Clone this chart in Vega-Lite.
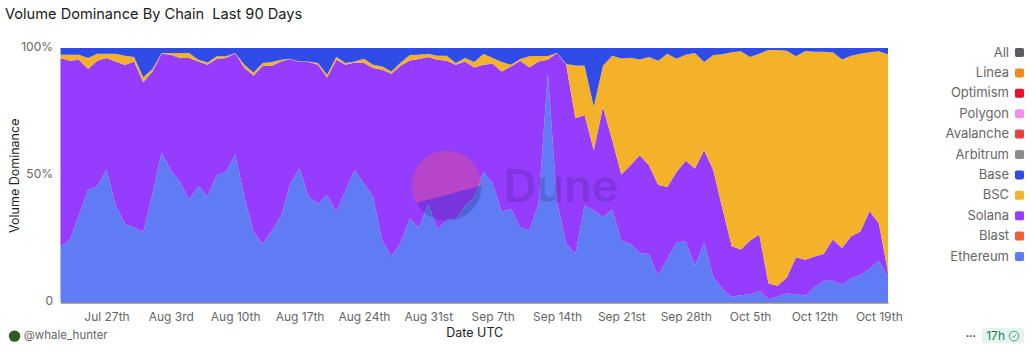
{
"$schema":"https://vega.github.io/schema/vega-lite/v6.json",
"width":827.5,"height":254.5,
"autosize":{"type":"none"},
"padding":{"left":60.5,"top":48,"right":144,"bottom":49.5},
"background":"white",
"title":{"text":"Volume Dominance By Chain\u00a0\u00a0Last 90 Days","anchor":"start","frame":"group","dx":-55.5,"offset":18,"font":"Inter","fontSize":14.6,"fontWeight":"normal","color":"#1a1a1a"},
"config":{"view":{"stroke":null},"font":"Inter"},
"layer":[
{"data":{"values":[
{"date":"2025-07-22","Ethereum":167,"Solana":563,"BSC":10,"Base":20},
{"date":"2025-07-23","Ethereum":187,"Solana":535,"BSC":18,"Base":20},
{"date":"2025-07-24","Ethereum":260,"Solana":465,"BSC":15,"Base":20},
{"date":"2025-07-25","Ethereum":337,"Solana":360,"BSC":33,"Base":30},
{"date":"2025-07-26","Ethereum":347,"Solana":375,"BSC":21,"Base":17},
{"date":"2025-07-27","Ethereum":397,"Solana":333,"BSC":13,"Base":17},
{"date":"2025-07-28","Ethereum":290,"Solana":430,"BSC":23,"Base":17},
{"date":"2025-07-29","Ethereum":235,"Solana":474,"BSC":28,"Base":23},
{"date":"2025-07-30","Ethereum":225,"Solana":495,"BSC":13,"Base":27},
{"date":"2025-07-31","Ethereum":210,"Solana":448,"BSC":15,"Base":87},
{"date":"2025-08-01","Ethereum":325,"Solana":365,"BSC":7,"Base":63},
{"date":"2025-08-02","Ethereum":447,"Solana":296,"BSC":2,"Base":15},
{"date":"2025-08-03","Ethereum":395,"Solana":345,"BSC":5,"Base":15},
{"date":"2025-08-04","Ethereum":360,"Solana":370,"BSC":15,"Base":15},
{"date":"2025-08-05","Ethereum":307,"Solana":423,"BSC":15,"Base":15},
{"date":"2025-08-06","Ethereum":347,"Solana":373,"BSC":5,"Base":35},
{"date":"2025-08-07","Ethereum":317,"Solana":393,"BSC":7,"Base":43},
{"date":"2025-08-08","Ethereum":380,"Solana":348,"BSC":7,"Base":25},
{"date":"2025-08-09","Ethereum":390,"Solana":340,"BSC":5,"Base":25},
{"date":"2025-08-10","Ethereum":442,"Solana":302,"BSC":1,"Base":15},
{"date":"2025-08-11","Ethereum":315,"Solana":385,"BSC":10,"Base":50},
{"date":"2025-08-12","Ethereum":210,"Solana":468,"BSC":9,"Base":73},
{"date":"2025-08-13","Ethereum":175,"Solana":532,"BSC":8,"Base":45},
{"date":"2025-08-14","Ethereum":215,"Solana":492,"BSC":11,"Base":42},
{"date":"2025-08-15","Ethereum":260,"Solana":460,"BSC":5,"Base":35},
{"date":"2025-08-16","Ethereum":355,"Solana":372,"BSC":1,"Base":32},
{"date":"2025-08-17","Ethereum":400,"Solana":318,"BSC":2,"Base":40},
{"date":"2025-08-18","Ethereum":315,"Solana":403,"BSC":2,"Base":40},
{"date":"2025-08-19","Ethereum":295,"Solana":415,"BSC":5,"Base":45},
{"date":"2025-08-20","Ethereum":320,"Solana":352,"BSC":8,"Base":80},
{"date":"2025-08-21","Ethereum":270,"Solana":455,"BSC":8,"Base":27},
{"date":"2025-08-22","Ethereum":335,"Solana":375,"BSC":5,"Base":45},
{"date":"2025-08-23","Ethereum":395,"Solana":322,"BSC":3,"Base":40},
{"date":"2025-08-24","Ethereum":355,"Solana":360,"BSC":13,"Base":32},
{"date":"2025-08-25","Ethereum":315,"Solana":385,"BSC":10,"Base":50},
{"date":"2025-08-26","Ethereum":185,"Solana":510,"BSC":10,"Base":55},
{"date":"2025-08-27","Ethereum":137,"Solana":546,"BSC":7,"Base":70},
{"date":"2025-08-28","Ethereum":180,"Solana":527,"BSC":10,"Base":43},
{"date":"2025-08-29","Ethereum":250,"Solana":473,"BSC":16,"Base":21},
{"date":"2025-08-30","Ethereum":223,"Solana":504,"BSC":13,"Base":20},
{"date":"2025-08-31","Ethereum":295,"Solana":438,"BSC":10,"Base":17},
{"date":"2025-09-01","Ethereum":218,"Solana":507,"BSC":12,"Base":23},
{"date":"2025-09-02","Ethereum":247,"Solana":475,"BSC":15,"Base":23},
{"date":"2025-09-03","Ethereum":250,"Solana":460,"BSC":5,"Base":45},
{"date":"2025-09-04","Ethereum":290,"Solana":430,"BSC":10,"Base":30},
{"date":"2025-09-05","Ethereum":315,"Solana":387,"BSC":16,"Base":42},
{"date":"2025-09-06","Ethereum":390,"Solana":320,"BSC":32,"Base":18},
{"date":"2025-09-07","Ethereum":355,"Solana":358,"BSC":17,"Base":30},
{"date":"2025-09-08","Ethereum":270,"Solana":420,"BSC":28,"Base":42},
{"date":"2025-09-09","Ethereum":280,"Solana":425,"BSC":5,"Base":50},
{"date":"2025-09-10","Ethereum":225,"Solana":497,"BSC":5,"Base":33},
{"date":"2025-09-11","Ethereum":215,"Solana":487,"BSC":33,"Base":25},
{"date":"2025-09-12","Ethereum":295,"Solana":425,"BSC":16,"Base":24},
{"date":"2025-09-13","Ethereum":685,"Solana":40,"BSC":11,"Base":24},
{"date":"2025-09-14","Ethereum":300,"Solana":445,"BSC":1,"Base":14},
{"date":"2025-09-15","Ethereum":175,"Solana":535,"BSC":2,"Base":48},
{"date":"2025-09-16","Ethereum":145,"Solana":405,"BSC":158,"Base":52},
{"date":"2025-09-17","Ethereum":290,"Solana":270,"BSC":147,"Base":53},
{"date":"2025-09-18","Ethereum":275,"Solana":180,"BSC":130,"Base":175},
{"date":"2025-09-19","Ethereum":255,"Solana":328,"BSC":124,"Base":53},
{"date":"2025-09-20","Ethereum":278,"Solana":207,"BSC":252,"Base":23},
{"date":"2025-09-21","Ethereum":185,"Solana":197,"BSC":347,"Base":31},
{"date":"2025-09-22","Ethereum":175,"Solana":235,"BSC":321,"Base":29},
{"date":"2025-09-23","Ethereum":147,"Solana":293,"BSC":286,"Base":34},
{"date":"2025-09-24","Ethereum":145,"Solana":265,"BSC":323,"Base":27},
{"date":"2025-09-25","Ethereum":80,"Solana":272,"BSC":370,"Base":38},
{"date":"2025-09-26","Ethereum":130,"Solana":215,"BSC":398,"Base":17},
{"date":"2025-09-27","Ethereum":180,"Solana":210,"BSC":338,"Base":32},
{"date":"2025-09-28","Ethereum":182,"Solana":241,"BSC":317,"Base":20},
{"date":"2025-09-29","Ethereum":110,"Solana":290,"BSC":345,"Base":15},
{"date":"2025-09-30","Ethereum":180,"Solana":275,"BSC":263,"Base":42},
{"date":"2025-10-01","Ethereum":75,"Solana":320,"BSC":344,"Base":21},
{"date":"2025-10-02","Ethereum":40,"Solana":240,"BSC":461,"Base":19},
{"date":"2025-10-03","Ethereum":17,"Solana":151,"BSC":579,"Base":13},
{"date":"2025-10-04","Ethereum":22,"Solana":136,"BSC":592,"Base":10},
{"date":"2025-10-05","Ethereum":25,"Solana":160,"BSC":548,"Base":27},
{"date":"2025-10-06","Ethereum":35,"Solana":168,"BSC":540,"Base":17},
{"date":"2025-10-07","Ethereum":10,"Solana":47,"BSC":697,"Base":6},
{"date":"2025-10-08","Ethereum":18,"Solana":32,"BSC":704,"Base":6},
{"date":"2025-10-09","Ethereum":27,"Solana":48,"BSC":677,"Base":8},
{"date":"2025-10-10","Ethereum":25,"Solana":110,"BSC":600,"Base":25},
{"date":"2025-10-11","Ethereum":20,"Solana":108,"BSC":623,"Base":9},
{"date":"2025-10-12","Ethereum":45,"Solana":92,"BSC":612,"Base":11},
{"date":"2025-10-13","Ethereum":65,"Solana":80,"BSC":604,"Base":11},
{"date":"2025-10-14","Ethereum":65,"Solana":123,"BSC":559,"Base":13},
{"date":"2025-10-15","Ethereum":52,"Solana":111,"BSC":563,"Base":34},
{"date":"2025-10-16","Ethereum":73,"Solana":125,"BSC":539,"Base":23},
{"date":"2025-10-17","Ethereum":82,"Solana":130,"BSC":531,"Base":17},
{"date":"2025-10-18","Ethereum":100,"Solana":173,"BSC":474,"Base":13},
{"date":"2025-10-19","Ethereum":125,"Solana":112,"BSC":513,"Base":10},
{"date":"2025-10-20","Ethereum":80,"Solana":10,"BSC":651,"Base":19}
]},
"transform":[
{"fold":["Ethereum","Solana","BSC","Base"],"as":["chain","share"]},
{"stack":"share","groupby":["date"],"offset":"normalize","as":["y0","y1"]}
],
"mark":{"type":"area","interpolate":"linear"},
"encoding":{
"x":{"field":"date","type":"temporal","scale":{"type":"utc","domain":[{"year":2025,"month":7,"date":22,"utc":true},{"year":2025,"month":10,"date":20,"utc":true}]},
"axis":{"title":"Date UTC","titleFont":"Inter","titleFontSize":12.5,"titleFontWeight":"normal","titleColor":"#222","titlePadding":4,"tickCount":{"interval":"week","step":1},"grid":false,"ticks":false,"domain":true,"domainColor":"#555","domainWidth":1,"labelFont":"Inter","labelFontSize":12,"labelColor":"#666","labelPadding":9,"labelOverlap":false,"zindex":1,
"labelExpr":"utcFormat(datum.value,'%b %-d') + (utcdate(datum.value)==3?'rd':(utcdate(datum.value)==31||utcdate(datum.value)==21)?'st':'th')"}},
"y":{"field":"y0","type":"quantitative","scale":{"domain":[0,1],"nice":false},
"axis":{"title":"Volume Dominance","titleFont":"Inter","titleFontSize":12.5,"titleFontWeight":"normal","titleColor":"#222","titlePadding":-1,"values":[0,0.5,1],"grid":false,"ticks":false,"domain":false,"labelFont":"Inter","labelFontSize":12,"labelColor":"#666","labelPadding":8,"labelOffset":-2,"labelExpr":"datum.value==0?'0':format(datum.value,'.0%')"}},
"y2":{"field":"y1"},
"color":{"field":"chain","type":"nominal","scale":{"domain":["All","Linea","Optimism","Polygon","Avalanche","Arbitrum","Base","BSC","Solana","Blast","Ethereum"],"range":["#5b5c60","#f08a1a","#e8112d","#f48ef0","#e84142","#8c8c8c","#2f4be8","#f3b229","#963cff","#ee5d38","#5f7cf5"]},
"legend":{"title":null,"orient":"none","legendX":952.5,"legendY":-2,"symbolType":"M -0.6 -1 H 0.6 A 0.4 0.4 0 0 1 1 -0.6 V 0.6 A 0.4 0.4 0 0 1 0.6 1 H -0.6 A 0.4 0.4 0 0 1 -1 0.6 V -0.6 A 0.4 0.4 0 0 1 -0.6 -1 Z","symbolSize":81,"symbolStrokeWidth":0,"symbolOpacity":1,"labelAlign":"right","labelOffset":-17,"labelFont":"Inter","labelFontSize":13,"labelColor":"#666","rowPadding":6.4,"values":["All","Linea","Optimism","Polygon","Avalanche","Arbitrum","Base","BSC","Solana","Blast","Ethereum"]}}
}},
{"data":{"values":[{"part":"watermark"}]},
"mark":{"type":"point","filled":true,"shape":"M -0.87 0.5 A 1 1 0 1 1 1 0 Z","size":4900,"color":"#ff5a5a","opacity":0.32,"dx":1},
"encoding":{"x":{"datum":{"year":2025,"month":9,"date":2,"utc":true},"type":"temporal"},"y":{"datum":0.46}}},
{"data":{"values":[{"part":"watermark"}]},
"mark":{"type":"point","filled":true,"shape":"M -0.87 0.5 A 1 1 0 0 0 1 0 Z","size":4900,"color":"#1c1f6e","opacity":0.25,"dx":1},
"encoding":{"x":{"datum":{"year":2025,"month":9,"date":2,"utc":true},"type":"temporal"},"y":{"datum":0.46}}},
{"data":{"values":[{"part":"watermark"}]},
"mark":{"type":"text","text":"Dune","font":"Inter","fontWeight":600,"fontSize":45,"align":"left","baseline":"alphabetic","color":"#2d2060","opacity":0.2,"dx":2},
"encoding":{"x":{"datum":{"year":2025,"month":9,"date":8,"utc":true},"type":"temporal"},"y":{"datum":0.395}}},
{"data":{"values":[{"part":"footer"}]},
"mark":{"type":"point","filled":true,"shape":"circle","size":130,"color":"#2f5a22","opacity":1},
"encoding":{"x":{"datum":{"year":2025,"month":7,"date":17,"utc":true},"type":"temporal"},"y":{"datum":-0.132}}},
{"data":{"values":[{"part":"footer"}]},
"mark":{"type":"text","text":"@whale_hunter","font":"Inter","fontSize":11.5,"align":"left","baseline":"middle","color":"#666"},
"encoding":{"x":{"datum":{"year":2025,"month":7,"date":18,"utc":true},"type":"temporal"},"y":{"datum":-0.132}}},
{"data":{"values":[{"part":"footer"}]},
"mark":{"type":"text","text":"•••","font":"Inter","fontSize":6,"align":"center","baseline":"middle","color":"#333"},
"encoding":{"x":{"datum":{"year":2025,"month":10,"date":29,"utc":true},"type":"temporal"},"y":{"datum":-0.132}}},
{"data":{"values":[{"part":"footer"}]},
"mark":{"type":"rect","color":"#e3f4ee","cornerRadius":3},
"encoding":{"x":{"datum":{"year":2025,"month":10,"date":30,"hours":6,"utc":true},"type":"temporal"},"x2":{"datum":{"year":2025,"month":11,"date":3,"hours":20,"utc":true}},"y":{"datum":-0.1},"y2":{"datum":-0.16}}},
{"data":{"values":[{"part":"footer"}]},
"mark":{"type":"text","text":"17h","font":"Inter","fontSize":12,"align":"left","baseline":"middle","color":"#1f7a5c","dx":4},
"encoding":{"x":{"datum":{"year":2025,"month":10,"date":30,"hours":6,"utc":true},"type":"temporal"},"y":{"datum":-0.132}}},
{"data":{"values":[{"part":"footer"}]},
"mark":{"type":"point","filled":false,"shape":"circle","size":90,"color":"#1f7a5c","strokeWidth":1},
"encoding":{"x":{"datum":{"year":2025,"month":11,"date":2,"hours":17,"utc":true},"type":"temporal"},"y":{"datum":-0.132}}},
{"data":{"values":[{"part":"footer"}]},
"mark":{"type":"point","filled":false,"shape":"M -0.6 0 L -0.15 0.5 L 0.7 -0.5","size":36,"color":"#1f7a5c","strokeWidth":1},
"encoding":{"x":{"datum":{"year":2025,"month":11,"date":2,"hours":17,"utc":true},"type":"temporal"},"y":{"datum":-0.132}}}
]
}
